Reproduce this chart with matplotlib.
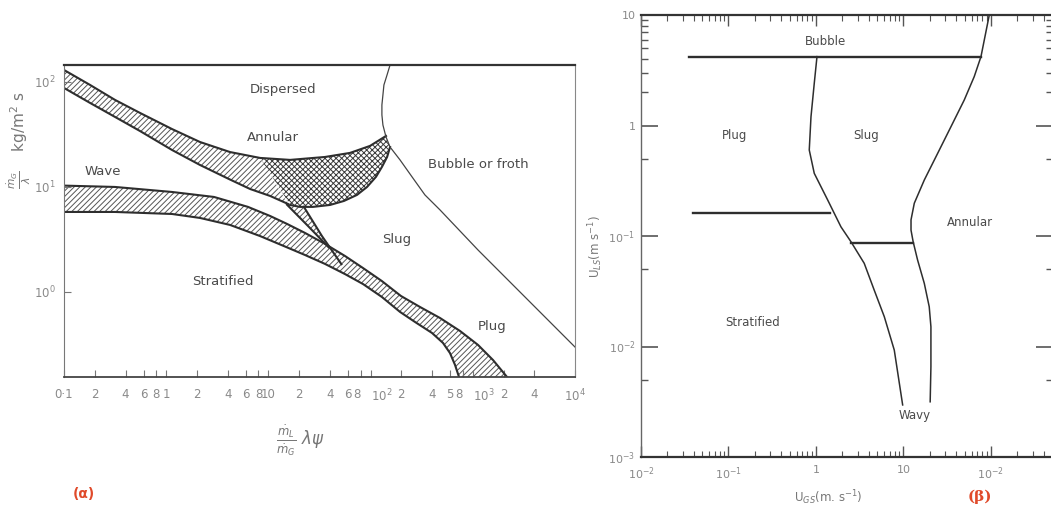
import numpy as np
import matplotlib.pyplot as plt
from matplotlib.ticker import FixedLocator, NullFormatter

plt.rcParams['font.family'] = ['DejaVu Sans']
plt.rcParams['hatch.linewidth'] = 0.7

# ---- (a) Baker map, boundaries ----
# upper band (annular / dispersed limit)
band1_top_x = [0.1, 0.18, 0.316, 0.554, 1.14, 2.14, 4.21, 8.28, 16.3, 35.8, 62.9, 98.7, 141.5]
band1_top_y = [130, 93.6, 67.4, 50.7, 35.6, 26.8, 21.5, 18.9, 18.1, 19.3, 21.1, 24.6, 30.6]
band1_bot_x = [0.1, 0.18, 0.316, 0.554, 1.14, 2.14, 4.11, 6.61, 10.4, 15.6]
band1_bot_y = [87.7, 63.1, 46.4, 34.1, 22.5, 16.2, 11.9, 9.57, 8.21, 6.88]
# cross hatched overlap, lower edge
cross_bot_x = [155, 145, 129, 113, 92.3, 73.6, 54.9, 40.1, 27.3, 20.4, 16.3]
cross_bot_y = [24.0, 19.3, 15.5, 12.5, 10.0, 8.40, 7.36, 6.74, 6.46, 6.46, 6.74]
# narrow wedge down to the stratified band
wedge_left_x = [15.2, 24.4, 38.9]
wedge_left_y = [6.78, 4.25, 2.66]
wedge_right_x = [22.2, 33.4, 51.8]
wedge_right_y = [6.48, 3.41, 1.84]
# lower band (stratified / wave limit)
band2_top_x = [0.1, 0.316, 1.14, 2.94, 6.31, 10.4, 15.2, 22.8, 35.8, 56.2, 84.3, 129,
               198, 304, 478, 750, 1125, 1576, 2163]
band2_top_y = [10.3, 10.0, 8.96, 8.03, 6.46, 5.29, 4.45, 3.65, 2.87, 2.20, 1.69, 1.27,
               0.916, 0.720, 0.565, 0.425, 0.313, 0.225, 0.155]
band2_bot_x = [0.1, 0.316, 1.14, 2.14, 4.21, 8.28, 15.2, 22.8, 35.8, 56.2, 84.3, 129,
               194, 272, 399, 511, 598, 670, 733]
band2_bot_y = [5.78, 5.78, 5.53, 5.07, 4.35, 3.41, 2.66, 2.25, 1.85, 1.48, 1.19, 0.896,
               0.646, 0.518, 0.407, 0.327, 0.262, 0.202, 0.155]
# bubble or froth boundary
bubble_x = [155, 145, 135, 132, 129, 129, 132, 141.5, 155, 194, 254, 340, 478, 1125, 10000]
bubble_y = [145, 117, 93.6, 75.2, 60.4, 48.5, 38.9, 29.9, 24.0, 18.1, 12.5, 8.40, 6.04, 2.51, 0.299]

baker_ticks = [0.1, 0.2, 0.4, 0.6, 0.8, 1, 2, 4, 6, 8, 10, 20, 40, 60, 80,
               100, 200, 400, 600, 800, 1000, 2000, 4000, 10000]
baker_labels = ['0·1', '2', '4', '6', '8', '1', '2', '4', '6', '8', '10', '2', '4', '6', '8',
                '10$^2$', '2', '4', '5', '8', '10$^3$', '2', '4', '10$^4$']

# ---- (b) Mandhane map ----
bubble_line_x = [0.0354, 76.9]
bubble_line_y = [4.2, 4.2]
strat_line_x = [0.039, 1.46]
strat_line_y = [0.160, 0.160]
wavy_line_x = [2.51, 12.7]
wavy_line_y = [0.087, 0.087]
slug_left_x = [1.027, 0.956, 0.877, 0.838, 0.956, 1.36, 1.93, 2.51, 3.56, 4.63, 6.04, 7.85, 9.79]
slug_left_y = [4.2, 2.41, 1.20, 0.600, 0.369, 0.212, 0.121, 0.0888, 0.0566, 0.0324, 0.0186, 0.00929, 0.00296]
annular_x = [95.7, 76.9, 64.4, 49.5, 34.9, 24.6, 17.3, 13.3, 12.2, 12.2, 12.9, 14.5, 17.3, 19.7, 20.6, 20.6, 20.2]
annular_y = [10, 4.2, 2.77, 1.70, 0.975, 0.560, 0.321, 0.198, 0.140, 0.113, 0.0888, 0.0607, 0.0373, 0.0229, 0.0151, 0.00656, 0.00316]

W, H = 1051, 511
fig = plt.figure(figsize=(W / 100, H / 100), dpi=100)

def px_axes(l, t, r, b):
    return fig.add_axes([l / W, 1 - b / H, (r - l) / W, (b - t) / H])

txt = '#4a4a4a'
ln = '#2e2e2e'

# ================= panel (a) =================
ax = px_axes(64, 65, 575, 377)
ax.set_xscale('log')
ax.set_yscale('log')
ax.set_xlim(0.1, 1e4)
ax.set_ylim(0.155, 145)

# hatched bands
hx = band1_top_x[:8] + band1_bot_x[::-1]
hy = band1_top_y[:8] + band1_bot_y[::-1]
ax.fill(hx, hy, facecolor='white', edgecolor='#555555', hatch='//////', linewidth=0)
cx = band1_top_x[7:] + cross_bot_x
cy = band1_top_y[7:] + cross_bot_y
ax.fill(cx, cy, facecolor='white', edgecolor='#3a3a3a', hatch='xxxxxx', linewidth=0)
wx = wedge_left_x + wedge_right_x[::-1]
wy = wedge_left_y + wedge_right_y[::-1]
ax.fill(wx, wy, facecolor='white', edgecolor='#555555', hatch='//////', linewidth=0)
lx = band2_top_x + band2_bot_x[::-1]
ly = band2_top_y + band2_bot_y[::-1]
ax.fill(lx, ly, facecolor='white', edgecolor='#555555', hatch='//////', linewidth=0)

for xs, ys in [(band1_top_x, band1_top_y), (band1_bot_x, band1_bot_y),
               (cross_bot_x, cross_bot_y), (wedge_left_x, wedge_left_y),
               (wedge_right_x, wedge_right_y), (band2_top_x, band2_top_y),
               (band2_bot_x, band2_bot_y)]:
    ax.plot(xs, ys, color=ln, lw=1.5)
ax.plot(bubble_x, bubble_y, color='#444444', lw=0.9)

for s, x, y in [('Dispersed', 13.9, 84), ('Annular', 11.1, 29.9), ('Wave', 0.241, 13.9),
                ('Bubble or froth', 1125, 16.2), ('Slug', 181, 3.13),
                ('Stratified', 3.6, 1.27), ('Plug', 1542, 0.464)]:
    ax.text(x, y, s, ha='center', va='center', fontsize=9.5, color=txt)

ax.xaxis.set_major_locator(FixedLocator(baker_ticks))
ax.set_xticklabels(baker_labels)
ax.xaxis.set_minor_locator(FixedLocator([]))
ax.yaxis.set_major_locator(FixedLocator([1, 10, 100]))
ax.set_yticklabels(['10$^0$', '10$^1$', '10$^2$'])
ax.yaxis.set_minor_locator(FixedLocator([]))
ax.tick_params(axis='both', direction='in', length=5, width=0.8, colors='#777777',
               labelsize=8.5, labelcolor='#8a8a8a')
ax.tick_params(axis='x', pad=8)
ax.tick_params(axis='y', pad=6)
# the "8" before each decade sits tight against the decade label
for lab, v in zip(ax.get_xticklabels(), baker_ticks):
    if v in (80, 800):
        lab.set_horizontalalignment('right')
    if v in (100, 1000):
        lab.set_horizontalalignment('left')
ax.spines['top'].set_linewidth(1.6)
ax.spines['top'].set_color('#333333')
ax.spines['bottom'].set_linewidth(1.3)
ax.spines['bottom'].set_color('#444444')
ax.spines['left'].set_linewidth(0.8)
ax.spines['left'].set_color('#777777')
ax.spines['right'].set_linewidth(0.8)
ax.spines['right'].set_color('#888888')

fig.text(19 / W, 1 - 140 / H, r'$\frac{\dot{m}_G}{\lambda}$    kg/m$^2$ s', rotation=90,
         ha='center', va='center', fontsize=11, color='#777777')
fig.text(300 / W, 1 - 440 / H, r'$\frac{\dot{m}_L}{\dot{m}_G}\ \lambda\psi$',
         ha='center', va='center', fontsize=12, color='#777777')
fig.text(84 / W, 1 - 494 / H, '(α)', ha='center', va='center', fontsize=10,
         color='#e04a2a', fontweight='bold')

# ================= panel (b) =================
bx = px_axes(641, 15, 1053, 457)
bx.set_xscale('log')
bx.set_yscale('log')
bx.set_xlim(0.01, 512)
bx.set_ylim(1e-3, 10)

for xs, ys in [(bubble_line_x, bubble_line_y), (strat_line_x, strat_line_y),
               (wavy_line_x, wavy_line_y)]:
    bx.plot(xs, ys, color=ln, lw=1.7)
bx.plot(slug_left_x, slug_left_y, color=ln, lw=1.1)
bx.plot(annular_x, annular_y, color=ln, lw=1.1)

for s, x, y in [('Bubble', 1.30, 5.73), ('Plug', 0.116, 0.82), ('Slug', 3.73, 0.82),
                ('Annular', 57.5, 0.132), ('Stratified', 0.19, 0.0164), ('Wavy', 13.5, 0.00235)]:
    bx.text(x, y, s, ha='center', va='center', fontsize=8.5, color=txt)

bx.xaxis.set_major_locator(FixedLocator([0.01, 0.1, 1, 10, 100]))
bx.set_xticklabels(['10$^{-2}$', '10$^{-1}$', '1', '10', '10$^{-2}$'])
xminor = [m * d for d in [0.01, 0.1, 1, 10, 100] for m in range(2, 10)]
bx.xaxis.set_minor_locator(FixedLocator(xminor))
bx.xaxis.set_minor_formatter(NullFormatter())
bx.yaxis.set_major_locator(FixedLocator([1e-3, 1e-2, 0.1, 1, 10]))
bx.set_yticklabels(['10$^{-3}$', '10$^{-2}$', '10$^{-1}$', '1', '10'])
bx.yaxis.set_minor_locator(FixedLocator([0.005, 0.05, 0.5, 2, 3, 4, 5, 6, 7, 8, 9]))
bx.yaxis.set_minor_formatter(NullFormatter())
bx.tick_params(axis='both', which='both', direction='in', top=True, right=True,
               colors='#555555', labelcolor='#8a8a8a', labelsize=8)
bx.tick_params(axis='x', which='major', length=8, width=1.0, pad=6)
bx.tick_params(axis='x', which='minor', length=4, width=0.8)
bx.tick_params(axis='y', which='major', length=12, width=1.2, pad=4)
bx.tick_params(axis='y', which='minor', length=5, width=1.0)
bx.spines['top'].set_linewidth(1.6)
bx.spines['top'].set_color('#333333')
bx.spines['bottom'].set_linewidth(1.6)
bx.spines['bottom'].set_color('#333333')
bx.spines['left'].set_linewidth(1.0)
bx.spines['left'].set_color('#666666')

fig.text(596 / W, 1 - 247 / H, r'U$_{LS}$(m s$^{-1}$)', rotation=90, ha='center',
         va='center', fontsize=8.5, color='#777777')
fig.text(828 / W, 1 - 498 / H, r'U$_{GS}$(m. s$^{-1}$)', ha='center', va='center',
         fontsize=8.5, color='#777777')
fig.text(980 / W, 1 - 497 / H, '(β)', ha='center', va='center', fontsize=11,
         color='#e04a2a', fontweight='bold', family=['DejaVu Serif'])

fig.savefig('out.png', dpi=100, facecolor='white')
